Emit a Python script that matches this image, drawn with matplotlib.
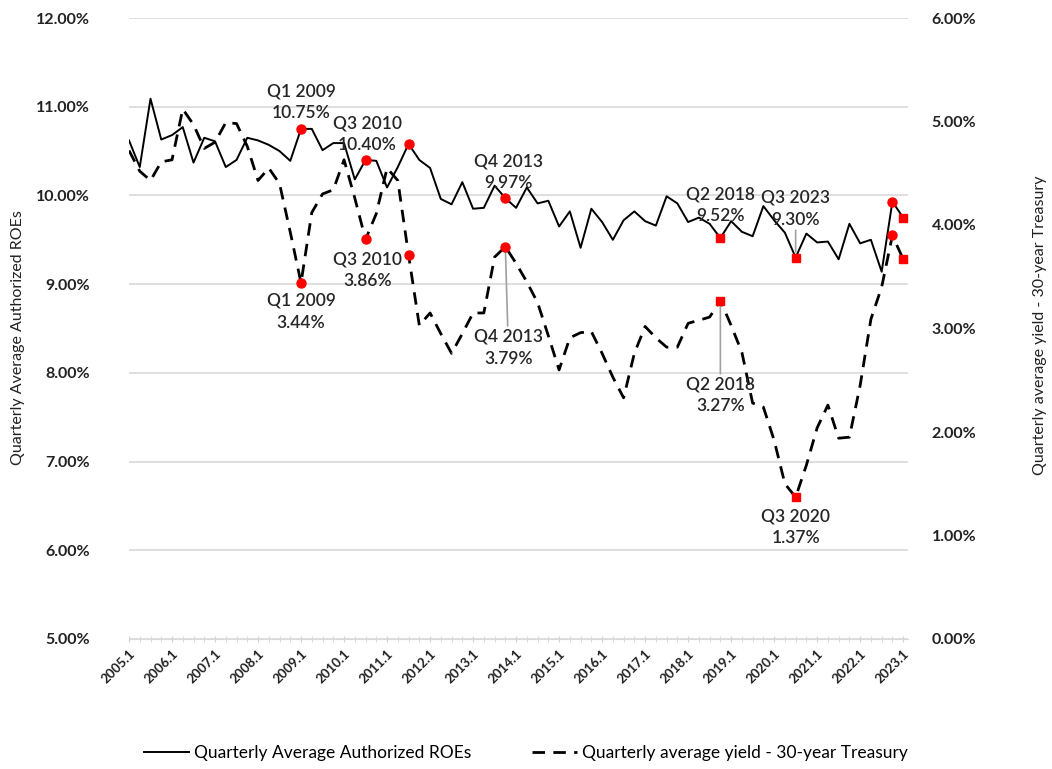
import numpy as np
import matplotlib.pyplot as plt
from matplotlib.ticker import FuncFormatter, MultipleLocator

plt.rcParams['font.family'] = ['Lato', 'DejaVu Sans']

# quarterly data, 2005 Q1 .. 2023 Q1
years = list(range(2005, 2024))
tick_labels = [f"{y}.1" for y in years]

roe = [10.62, 10.32, 11.09, 10.63, 10.68, 10.77, 10.37, 10.65, 10.61, 10.32,
       10.40, 10.65, 10.62, 10.57, 10.50, 10.39, 10.75, 10.75, 10.51, 10.59,
       10.59, 10.18, 10.40, 10.39, 10.09, 10.32, 10.58, 10.40, 10.31, 9.96,
       9.90, 10.15, 9.85, 9.86, 10.11, 9.97, 9.86, 10.09, 9.91, 9.94,
       9.65, 9.82, 9.41, 9.85, 9.70, 9.50, 9.72, 9.82, 9.71, 9.66,
       9.99, 9.91, 9.70, 9.75, 9.68, 9.52, 9.71, 9.59, 9.54, 9.88,
       9.72, 9.58, 9.30, 9.57, 9.47, 9.48, 9.28, 9.68, 9.46, 9.50,
       9.14, 9.93, 9.75]

yld = [4.72, 4.52, 4.43, 4.61, 4.63, 5.12, 4.97, 4.74, 4.80, 4.99,
       4.98, 4.76, 4.43, 4.55, 4.40, 3.93, 3.44, 4.12, 4.30, 4.34,
       4.63, 4.26, 3.86, 4.11, 4.55, 4.43, 3.71, 3.03, 3.15, 2.95,
       2.76, 2.95, 3.15, 3.15, 3.69, 3.79, 3.63, 3.45, 3.25, 2.93,
       2.60, 2.91, 2.96, 2.97, 2.76, 2.53, 2.33, 2.76, 3.02, 2.91,
       2.82, 2.82, 3.05, 3.08, 3.11, 3.27, 3.03, 2.77, 2.28, 2.24,
       1.92, 1.50, 1.37, 1.68, 2.04, 2.26, 1.94, 1.95, 2.45, 3.09,
       3.40, 3.90, 3.67]

# highlighted points (quarter index)
roe_circles = [16, 22, 26, 35, 71]
roe_squares = [55, 62, 72]
yld_circles = [16, 22, 26, 35, 71]
yld_squares = [55, 62, 72]

roe_notes = [(16, "Q1 2009\n10.75%", 8, 0), (22, "Q3 2010\n10.40%", 7, 2),
             (35, "Q4 2013\n9.97%", 7, 3), (55, "Q2 2018\n9.52%", 14, 0)]
yld_notes = [(16, "Q1 2009\n3.44%", -10, 0), (22, "Q3 2010\n3.86%", -12, 2),
             (62, "Q3 2020\n1.37%", -11, 0)]

x = np.arange(len(roe))

fig = plt.figure(figsize=(10.52, 7.69), dpi=100)
ax = fig.add_axes([129 / 1052, 1 - 639 / 769, (908 - 129) / 1052, (639 - 18) / 769])
ax2 = ax.twinx()

ax.plot(x, roe, color='black', lw=1.4, label='Quarterly Average Authorized ROEs', zorder=3)
ax2.plot(x, yld, color='black', lw=2.0, ls=(0, (4.5, 3)),
         label='Quarterly average yield - 30-year Treasury', zorder=3)

ax.plot(roe_circles, [roe[i] for i in roe_circles], 'o', color='red', ms=6.5, clip_on=False, zorder=4)
ax.plot(roe_squares, [roe[i] for i in roe_squares], 's', color='red', ms=6, clip_on=False, zorder=4)
ax2.plot(yld_circles, [yld[i] for i in yld_circles], 'o', color='red', ms=6.5, clip_on=False, zorder=4)
ax2.plot(yld_squares, [yld[i] for i in yld_squares], 's', color='red', ms=6, clip_on=False, zorder=4)

ax.set_xlim(0, 72.45)
ax.set_ylim(5, 12)
ax2.set_ylim(0, 6)

ax.yaxis.set_major_locator(MultipleLocator(1))
ax2.yaxis.set_major_locator(MultipleLocator(1))
pct = FuncFormatter(lambda v, p: f"{v:.2f}%")
ax.yaxis.set_major_formatter(pct)
ax2.yaxis.set_major_formatter(pct)

ax.set_xticks(x[::4])
ax.set_xticklabels(tick_labels, rotation=45, ha='right', rotation_mode='anchor',
                   fontsize=9.5, fontweight='bold', color='#222222')
ax.set_xticks(x, minor=True)
ax.tick_params(axis='x', which='both', length=4, color='#d0d0d0', direction='inout', pad=4)
ax.tick_params(axis='y', length=0, pad=28, labelsize=11.5, labelcolor='#222222')
ax2.tick_params(axis='y', length=0, pad=17, labelsize=11.5, labelcolor='#222222')
for lab in ax.get_yticklabels() + ax2.get_yticklabels():
    lab.set_fontweight('bold')

ax.grid(axis='y', color='#d9d9d9', lw=1.2)
ax.set_axisbelow(True)
for a in (ax, ax2):
    for s in ['top', 'left', 'right']:
        a.spines[s].set_visible(False)
    a.spines['bottom'].set_color('#d9d9d9')
ax2.spines['bottom'].set_visible(False)

txt = dict(ha='center', fontsize=12.5, color='#262626', linespacing=1.45,
           fontweight='semibold', textcoords='offset pixels')
for i, s, dy, dx in roe_notes:
    ax.annotate(s, (i, roe[i]), xytext=(dx, dy), va='bottom', **txt)
for i, s, dy, dx in yld_notes:
    ax2.annotate(s, (i, yld[i]), xytext=(dx, dy), va='top', **txt)

# notes with leader lines
lead = dict(arrowstyle='-', color='#a0a0a0', lw=1.2, shrinkA=0, shrinkB=4)
ax.annotate("Q3 2023\n9.30%", (62, roe[62]), xytext=(0, 30), va='bottom',
            arrowprops=lead, **txt)
ax2.annotate("Q4 2013\n3.79%", (35, yld[35]), xytext=(3, -82), va='top',
             arrowprops=lead, **txt)
ax2.annotate("Q2 2018\n3.27%", (55, yld[55]), xytext=(0, -76), va='top',
             arrowprops=lead, **txt)

fig.text(18 / 1052, 1 - 338 / 769, 'Quarterly Average Authorized ROEs', rotation=90,
         ha='center', va='center', fontsize=11.5, color='#222222')
fig.text(1040 / 1052, 1 - 325 / 769, 'Quarterly average yield - 30-year Treasury', rotation=90,
         ha='center', va='center', fontsize=11.5, color='#222222')

h1, l1 = ax.get_legend_handles_labels()
h2, l2 = ax2.get_legend_handles_labels()
fig.legend(h1[:1] + h2[:1], l1[:1] + l2[:1], loc='center', bbox_to_anchor=(0.5, 1 - 753 / 769),
           ncol=2, frameon=False, fontsize=12.5, handlelength=2.6, columnspacing=3.5,
           handletextpad=0.3)

fig.savefig('out.png', dpi=100)
